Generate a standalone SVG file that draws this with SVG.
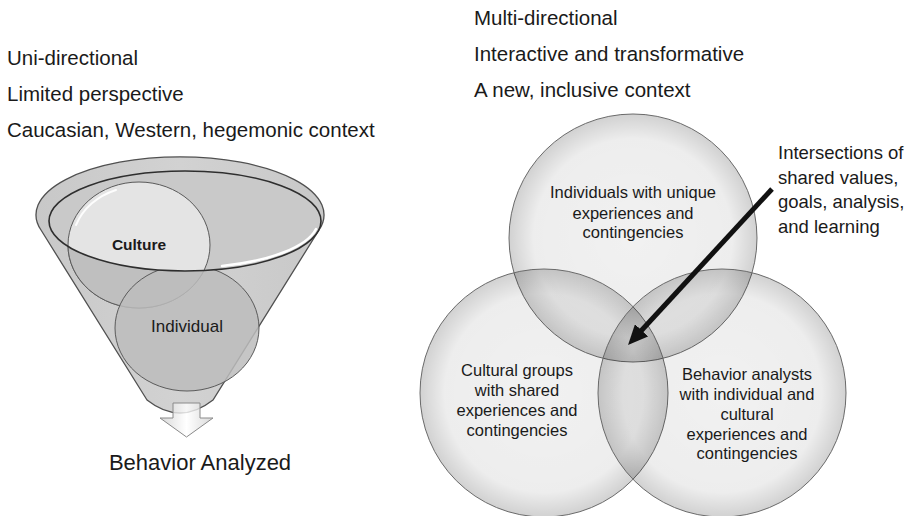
<svg xmlns="http://www.w3.org/2000/svg" width="913" height="516" viewBox="0 0 913 516">
  <defs>
    <style>
      .t { font-family: "Liberation Sans", Arial, sans-serif; fill: #1a1a1a; }
      .h { font-size: 20.5px; }
      .v { font-size: 16.5px; text-anchor: middle; }
      .note { font-size: 18.5px; }
      .venn { fill: url(#vennFill); stroke: #6a6a6a; stroke-width: 1; }
      .ring { stroke: #5a5a5a; stroke-width: 1; }
      .shine { fill: none; stroke: #ffffff; stroke-linecap: round; }
    </style>
    <radialGradient id="vennFill" cx="50%" cy="50%" r="50%">
      <stop offset="0" stop-color="#000" stop-opacity="0.055"/>
      <stop offset="0.8" stop-color="#000" stop-opacity="0.07"/>
      <stop offset="1" stop-color="#000" stop-opacity="0.18"/>
    </radialGradient>
    <linearGradient id="coneFill" x1="0" y1="0" x2="1" y2="0">
      <stop offset="0" stop-color="#c8c8c8"/>
      <stop offset="0.5" stop-color="#d2d2d2"/>
      <stop offset="1" stop-color="#c8c8c8"/>
    </linearGradient>
    <linearGradient id="spoutFill" x1="0" y1="0" x2="1" y2="0">
      <stop offset="0" stop-color="#cfcfcf" stop-opacity="0.8"/>
      <stop offset="0.5" stop-color="#ffffff" stop-opacity="0.8"/>
      <stop offset="1" stop-color="#cfcfcf" stop-opacity="0.8"/>
    </linearGradient>
    <!-- everything below the front lip of the funnel opening -->
    <clipPath id="belowRim">
      <path d="M49,221 A136 50 0 0 0 321,221 L345,221 L345,440 L15,440 L15,221 Z"/>
    </clipPath>
    <marker id="head" markerUnits="userSpaceOnUse" markerWidth="20" markerHeight="18" refX="5" refY="9" orient="auto" viewBox="0 0 20 18">
      <path d="M0,0 L20,9 L0,18 Z" fill="#111"/>
    </marker>
  </defs>

  <rect width="913" height="516" fill="#ffffff"/>

  <!-- left column headings -->
  <g id="left-headings">
    <text class="t h" x="7" y="65">Uni-directional</text>
    <text class="t h" x="7" y="101">Limited perspective</text>
    <text class="t h" x="7" y="137">Caucasian, Western, hegemonic context</text>
  </g>

  <!-- right column headings -->
  <g id="right-headings">
    <text class="t h" x="474" y="25">Multi-directional</text>
    <text class="t h" x="474" y="61">Interactive and transformative</text>
    <text class="t h" x="474" y="97">A new, inclusive context</text>
  </g>

  <!-- funnel -->
  <g id="funnel">
    <path d="M147,400 L41,230 A144 58 0 1 1 319,230 L213,400 Q180,426 147,400 Z" fill="url(#coneFill)" stroke="#505050" stroke-width="1.3"/>
    <ellipse cx="185" cy="221" rx="136" ry="50" fill="#c9c9c9"/>
  </g>

  <g id="culture">
    <ellipse cx="139" cy="245" rx="71" ry="63" fill="#e4e4e4" class="ring"/>
    <path class="shine" stroke-width="2" opacity="0.9" d="M76,225 A67 59 0 0 1 116,190"/>
  </g>

  <g id="individual">
    <g clip-path="url(#belowRim)">
      <ellipse cx="139" cy="245" rx="71" ry="63" fill="#bfbfbf" class="ring"/>
      <ellipse cx="187" cy="328" rx="72" ry="63" fill="#bcbcbc" fill-opacity="0.85" class="ring"/>
    </g>
  </g>

  <g id="funnel-lip">
    <ellipse cx="185" cy="221" rx="136" ry="50" fill="none" stroke="#2e2e2e" stroke-width="1.6"/>
    <path class="shine" stroke-width="2.5" d="M316,229 A133 47 0 0 1 222,266"/>
  </g>

  <g id="labels-funnel">
    <text class="t" x="139" y="250" font-size="15.5" font-weight="bold" text-anchor="middle">Culture</text>
    <text class="t" x="187" y="332" font-size="17" text-anchor="middle">Individual</text>
  </g>

  <g id="spout">
    <path d="M173,403 H200 V418 H213 L186.5,437 L160,418 H173 Z" fill="url(#spoutFill)" stroke="#8a8a8a" stroke-width="1"/>
  </g>

  <g id="result">
    <text class="t" x="200" y="470" font-size="22" text-anchor="middle">Behavior Analyzed</text>
  </g>

  <!-- three overlapping circles -->
  <g id="individuals">
    <circle class="venn" cx="633" cy="238" r="124"/>
    <text class="t v" x="633" y="198">Individuals with unique</text>
    <text class="t v" x="633" y="219">experiences and</text>
    <text class="t v" x="633" y="238">contingencies</text>
  </g>
  <g id="cultural-groups">
    <circle class="venn" cx="544" cy="393" r="124"/>
  </g>
  <g id="behavior-analysts">
    <circle class="venn" cx="722" cy="393" r="124"/>
  </g>
  <g id="venn-labels">
    <text class="t v" x="517" y="376">Cultural groups</text>
    <text class="t v" x="517" y="396">with shared</text>
    <text class="t v" x="517" y="416">experiences and</text>
    <text class="t v" x="517" y="436">contingencies</text>
    <text class="t v" x="747" y="380">Behavior analysts</text>
    <text class="t v" x="747" y="400">with individual and</text>
    <text class="t v" x="747" y="420">cultural</text>
    <text class="t v" x="747" y="440">experiences and</text>
    <text class="t v" x="747" y="459">contingencies</text>
  </g>

  <g id="intersection-note">
    <text class="t note" x="778" y="159">Intersections of</text>
    <text class="t note" x="778" y="184">shared values,</text>
    <text class="t note" x="778" y="208">goals, analysis,</text>
    <text class="t note" x="778" y="233">and learning</text>
  </g>

  <g id="connectors">
    <line x1="772" y1="189" x2="638.2" y2="334" stroke="#111" stroke-width="5" marker-end="url(#head)"/>
  </g>
</svg>
